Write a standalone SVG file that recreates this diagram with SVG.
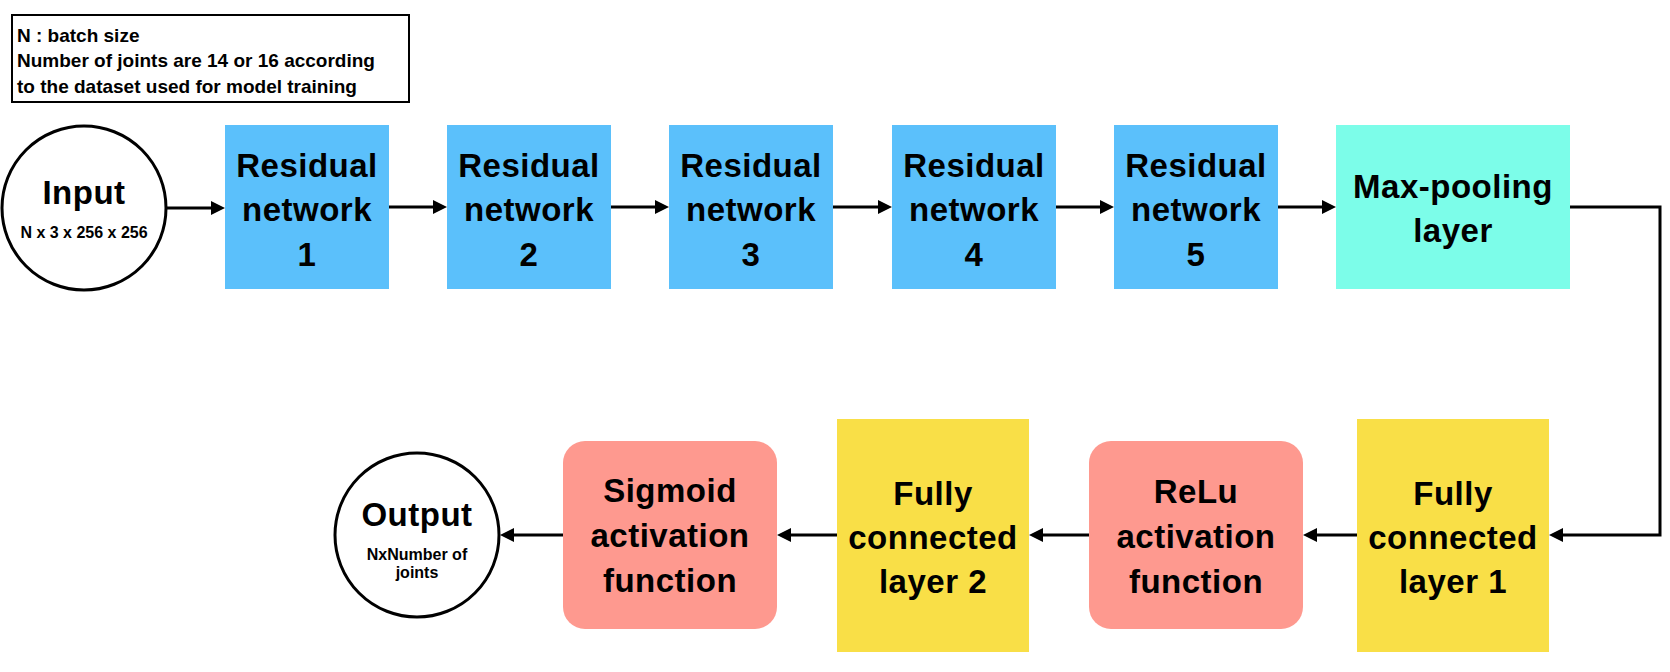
<svg xmlns="http://www.w3.org/2000/svg" width="1670" height="672" viewBox="0 0 1670 672">
<defs>
<style>
.t{font-family:"Liberation Sans",Arial,Helvetica,sans-serif;font-weight:bold;fill:#000;text-anchor:middle}
.big{font-size:33px;letter-spacing:0.5px}
.sm{font-size:16px}
.leg{font-family:"Liberation Sans",Arial,Helvetica,sans-serif;font-weight:bold;font-size:19px;fill:#000}
.blue{fill:#5bc0fb}
.cyan{fill:#7cfde9}
.yel{fill:#f9df47}
.sal{fill:#fe998f}
.circ{fill:#fff;stroke:#000;stroke-width:3}
.con{fill:none;stroke:#000;stroke-width:3}
</style>
<marker id="ah" markerUnits="userSpaceOnUse" markerWidth="15" markerHeight="15" refX="0" refY="7" orient="auto">
<path d="M0,0 L14,7 L0,14 z" fill="#000"/>
</marker>
</defs>
<rect width="1670" height="672" fill="#fff"/>

<g id="legend">
<rect x="12" y="15" width="397" height="87" fill="#fff" stroke="#000" stroke-width="2"/>
<text class="leg" x="17" y="42">N : batch size</text>
<text class="leg" x="17" y="67">Number of joints are 14 or 16 according</text>
<text class="leg" x="17" y="93">to the dataset used for model training</text>
</g>

<g id="input">
<circle class="circ" cx="84" cy="208" r="82"/>
<text class="t big" x="84" y="204">Input</text>
<text class="t sm" x="84" y="238">N x 3 x 256 x 256</text>
</g>

<g id="res1">
<rect class="blue" x="225" y="125" width="164" height="164"/>
<text class="t big" x="307" y="177">Residual</text>
<text class="t big" x="307" y="221">network</text>
<text class="t big" x="307" y="266">1</text>
</g>
<g id="res2">
<rect class="blue" x="447" y="125" width="164" height="164"/>
<text class="t big" x="529" y="177">Residual</text>
<text class="t big" x="529" y="221">network</text>
<text class="t big" x="529" y="266">2</text>
</g>
<g id="res3">
<rect class="blue" x="669" y="125" width="164" height="164"/>
<text class="t big" x="751" y="177">Residual</text>
<text class="t big" x="751" y="221">network</text>
<text class="t big" x="751" y="266">3</text>
</g>
<g id="res4">
<rect class="blue" x="892" y="125" width="164" height="164"/>
<text class="t big" x="974" y="177">Residual</text>
<text class="t big" x="974" y="221">network</text>
<text class="t big" x="974" y="266">4</text>
</g>
<g id="res5">
<rect class="blue" x="1114" y="125" width="164" height="164"/>
<text class="t big" x="1196" y="177">Residual</text>
<text class="t big" x="1196" y="221">network</text>
<text class="t big" x="1196" y="266">5</text>
</g>
<g id="maxpool">
<rect class="cyan" x="1336" y="125" width="234" height="164"/>
<text class="t big" x="1453" y="198">Max-pooling</text>
<text class="t big" x="1453" y="242">layer</text>
</g>

<g id="fc1">
<rect class="yel" x="1357" y="419" width="192" height="233"/>
<text class="t big" x="1453" y="505">Fully</text>
<text class="t big" x="1453" y="549">connected</text>
<text class="t big" x="1453" y="593">layer 1</text>
</g>
<g id="relu">
<rect class="sal" x="1089" y="441" width="214" height="188" rx="22" ry="22"/>
<text class="t big" x="1196" y="503">ReLu</text>
<text class="t big" x="1196" y="548">activation</text>
<text class="t big" x="1196" y="593">function</text>
</g>
<g id="fc2">
<rect class="yel" x="837" y="419" width="192" height="233"/>
<text class="t big" x="933" y="505">Fully</text>
<text class="t big" x="933" y="549">connected</text>
<text class="t big" x="933" y="593">layer 2</text>
</g>
<g id="sigmoid">
<rect class="sal" x="563" y="441" width="214" height="188" rx="22" ry="22"/>
<text class="t big" x="670" y="502">Sigmoid</text>
<text class="t big" x="670" y="547">activation</text>
<text class="t big" x="670" y="592">function</text>
</g>
<g id="output">
<circle class="circ" cx="417" cy="535" r="82"/>
<text class="t big" x="417" y="526">Output</text>
<text class="t sm" x="417" y="560">NxNumber of</text>
<text class="t sm" x="417" y="578">joints</text>
</g>

<g id="connectors">
<path class="con" d="M166,208 H211" marker-end="url(#ah)"/>
<path class="con" d="M389,207 H433" marker-end="url(#ah)"/>
<path class="con" d="M611,207 H655" marker-end="url(#ah)"/>
<path class="con" d="M833,207 H878" marker-end="url(#ah)"/>
<path class="con" d="M1056,207 H1100" marker-end="url(#ah)"/>
<path class="con" d="M1278,207 H1322" marker-end="url(#ah)"/>
<path class="con" d="M1570,207 H1660 V535 H1563" marker-end="url(#ah)"/>
<path class="con" d="M1357,535 H1317" marker-end="url(#ah)"/>
<path class="con" d="M1089,535 H1043" marker-end="url(#ah)"/>
<path class="con" d="M837,535 H791" marker-end="url(#ah)"/>
<path class="con" d="M563,535 H514" marker-end="url(#ah)"/>
</g>
</svg>
